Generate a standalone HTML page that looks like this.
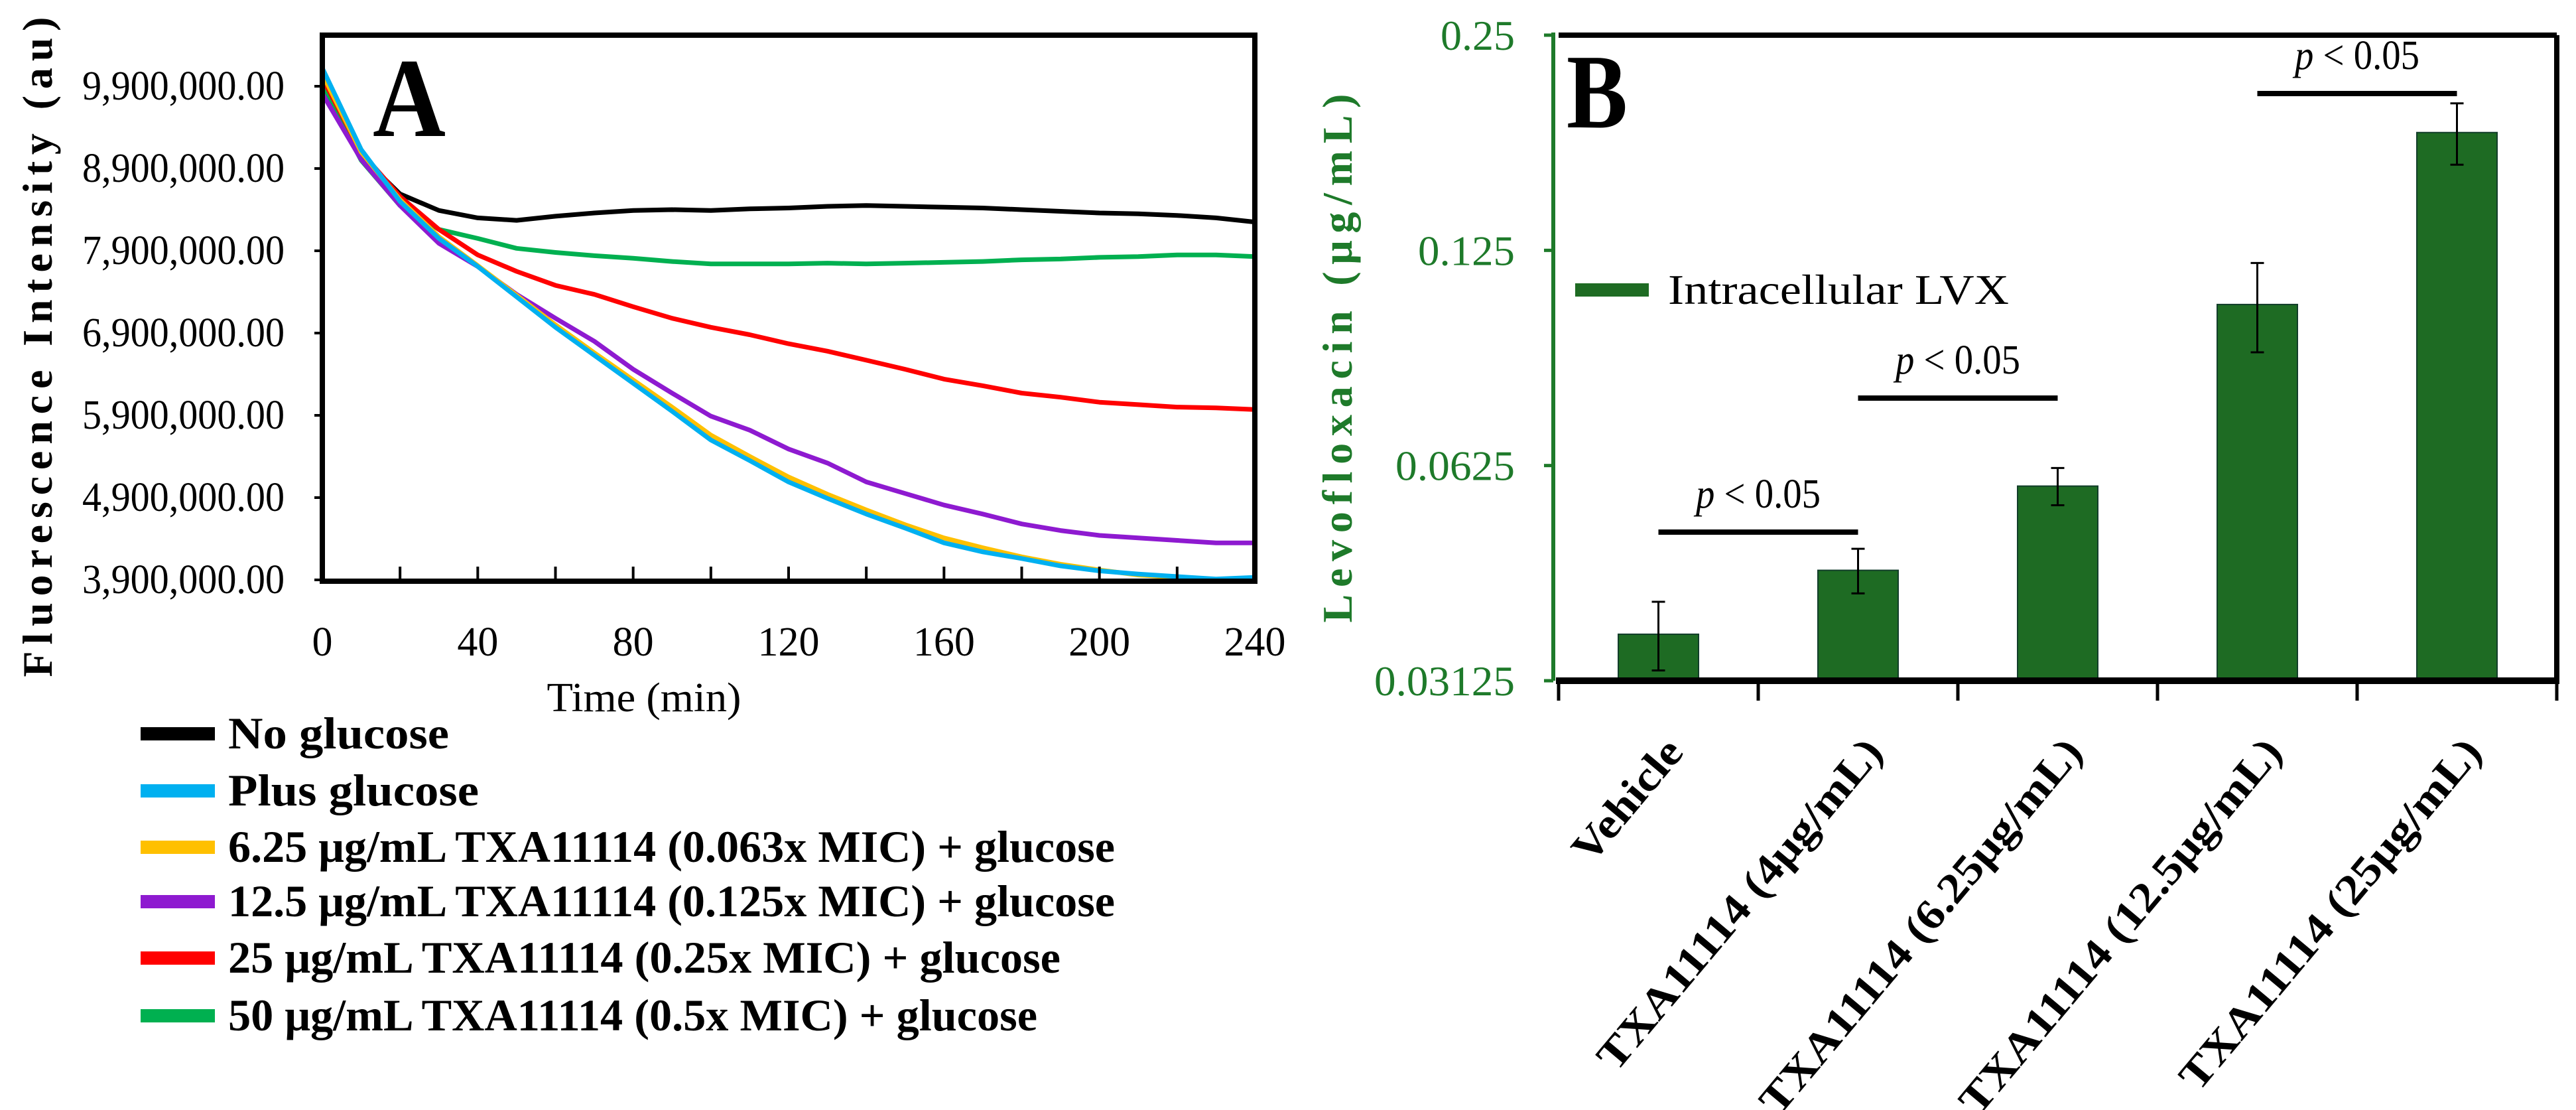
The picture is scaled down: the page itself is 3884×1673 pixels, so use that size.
<!DOCTYPE html>
<html><head><meta charset="utf-8"><style>
body{margin:0;background:#fff}
svg{display:block}
text{font-family:"Liberation Serif",serif}
</style></head><body>
<svg id="fig" width="3884" height="1673" viewBox="0 0 3884 1673" xmlns="http://www.w3.org/2000/svg">
<g id="panelA"></g>
<g id="panelB"></g>
</svg>
<script>
// ---- Panel A data ----
const timesA = [0,10,20,30,40,50,60,70,80,90,100,110,120,130,140,150,160,170,180,190,200,210,220,230,240];
const noGlucose   = [9.95,9.05,8.59,8.39,8.30,8.27,8.32,8.36,8.39,8.40,8.39,8.41,8.42,8.44,8.45,8.44,8.43,8.42,8.40,8.38,8.36,8.35,8.33,8.30,8.25];
const plusGlucose = [10.12,9.13,8.50,8.05,7.71,7.34,6.97,6.63,6.29,5.95,5.60,5.35,5.09,4.89,4.70,4.53,4.35,4.24,4.16,4.07,4.01,3.97,3.94,3.91,3.93];
const txa625      = [10.05,9.10,8.52,8.07,7.72,7.36,7.00,6.66,6.33,6.00,5.66,5.40,5.15,4.94,4.75,4.57,4.41,4.29,4.18,4.09,4.02,3.96,3.93,3.90,3.90];
const txa125      = [9.81,9.01,8.45,7.99,7.71,7.37,7.08,6.80,6.46,6.17,5.89,5.72,5.49,5.32,5.09,4.95,4.81,4.70,4.58,4.50,4.44,4.41,4.38,4.35,4.35];
const txa25       = [10.00,9.10,8.56,8.16,7.85,7.65,7.48,7.37,7.22,7.08,6.97,6.88,6.77,6.68,6.57,6.46,6.34,6.26,6.17,6.12,6.06,6.03,6.00,5.99,5.97];
const txa50       = [9.90,9.00,8.45,8.16,8.05,7.93,7.88,7.84,7.81,7.77,7.74,7.74,7.74,7.75,7.74,7.75,7.76,7.77,7.79,7.80,7.82,7.83,7.85,7.85,7.83];
const seriesNames = ["No glucose","Plus glucose","6.25 μg/mL TXA11114 (0.063x MIC) + glucose","12.5 μg/mL TXA11114 (0.125x MIC) + glucose","25 μg/mL TXA11114 (0.25x MIC) + glucose","50 μg/mL TXA11114 (0.5x MIC) + glucose"];
const yTicksA = [3.9,4.9,5.9,6.9,7.9,8.9,9.9];
const yTickLabelsA = ["3,900,000.00","4,900,000.00","5,900,000.00","6,900,000.00","7,900,000.00","8,900,000.00","9,900,000.00"];
const xTicksA = [0,40,80,120,160,200,240];

// ---- Panel B data ----
const categoriesB = ["Vehicle","TXA11114 (4μg/mL)","TXA11114 (6.25μg/mL)","TXA11114 (12.5μg/mL)","TXA11114 (25μg/mL)"];
const valuesB = [0.0363,0.0446,0.0585,0.105,0.1827];
const errorsB = [0.0040,0.0032,0.0035,0.015,0.018];
const yTicksB = [0.03125,0.0625,0.125,0.25];
const yTickLabelsB = ["0.03125","0.0625","0.125","0.25"];
const sigPairs = [[0,1],[1,2],[3,4]];

const NS="http://www.w3.org/2000/svg";
function mk(parent,tag,attrs,txt){const e=document.createElementNS(NS,tag);for(const k in attrs)e.setAttribute(k,attrs[k]);if(txt!==undefined)e.textContent=txt;parent.appendChild(e);return e;}

// ===== Panel A =====
const A=document.getElementById('panelA');
const aL=486,aR=1892,aT=53,aB=876;
const xA=t=>aL+(t-0)/(240-0)*(aR-aL);
const yA=v=>874-(v-3.9)*124;
const colors=["#000000","#00b0f0","#ffc000","#8e1ad0","#ff0000","#00b050"];
const drawOrder=[0,5,4,3,2,1];
const allSeries=[noGlucose,plusGlucose,txa625,txa125,txa25,txa50];
const clip=mk(A,'clipPath',{id:'clipA'});mk(clip,'rect',{x:aL,y:aT,width:aR-aL,height:aB-aT});
drawOrder.forEach(i=>{
  const pts=timesA.map((t,j)=>xA(t).toFixed(1)+','+yA(allSeries[i][j]).toFixed(1)).join(' ');
  const p=mk(A,'polyline',{points:pts,fill:'none',stroke:colors[i],'stroke-width':7,'stroke-linejoin':'round','clip-path':'url(#clipA)'});
  
  
});
const boxA=mk(A,'rect',{x:aL,y:aT,width:aR-aL,height:aB-aT,fill:'none',stroke:'#000','stroke-width':8});


for(let t=20;t<240;t+=20){mk(A,'line',{x1:xA(t),x2:xA(t),y1:aB,y2:aB-22,stroke:'#000','stroke-width':4});}
yTicksA.forEach((v,i)=>{
  mk(A,'line',{x1:aL-12,x2:aL,y1:yA(v),y2:yA(v),stroke:'#000','stroke-width':4});
  const t=mk(A,'text',{x:429,y:yA(v)+20,'text-anchor':'end','font-size':62,textLength:305,lengthAdjust:'spacingAndGlyphs'},yTickLabelsA[i]);
  
  
});
xTicksA.forEach(v=>{
  const t=mk(A,'text',{x:xA(v),y:988,'text-anchor':'middle','font-size':62},String(v));
  
  
});
let tt=mk(A,'text',{x:971,y:1072,'text-anchor':'middle','font-size':62,textLength:293,lengthAdjust:'spacingAndGlyphs'},'Time (min)');


tt=mk(A,'text',{x:0,y:0,transform:'translate(78,523) rotate(-90)','text-anchor':'middle','font-size':64,'font-weight':'bold',textLength:995,lengthAdjust:'spacing'},'Fluorescence Intensity (au)');


tt=mk(A,'text',{x:562,y:205,'font-size':170,'font-weight':'bold',textLength:110,lengthAdjust:'spacingAndGlyphs'},'A');


const legY=[1106,1192,1277,1359,1444,1531];
const legLen=[333,378,1337,1337,1255,1220];
seriesNames.forEach((n,i)=>{
  const g=mk(A,'g',{});
  
  
  mk(g,'rect',{x:212,y:legY[i]-10,width:112,height:20,fill:colors[i]});
  mk(g,'text',{x:344,y:legY[i]+22,'font-size':68,'font-weight':'bold',textLength:legLen[i],lengthAdjust:'spacingAndGlyphs'},n);
});

// ===== Panel B =====
const B=document.getElementById('panelB');
const bL=2350,bR=3855,bT=53,bB=1026;
const catW=(bR-bL)/categoriesB.length;
const xB=i=>bL+catW*(i+0.5);
const yB=v=>bB-Math.log2(v/0.03125)*(bB-bT)/3;
const barW=121;
valuesB.forEach((v,i)=>{
  const r=mk(B,'rect',{x:xB(i)-barW/2,y:yB(v),width:barW,height:bB-yB(v),fill:'#1e6b23',stroke:'#123d2a','stroke-width':2});
  
  
  const top=yB(v+errorsB[i]),bot=yB(v-errorsB[i]);
  const e=mk(B,'g',{stroke:'#000','stroke-width':3});
  
  
  mk(e,'line',{x1:xB(i),x2:xB(i),y1:top,y2:bot});
  mk(e,'line',{x1:xB(i)-10,x2:xB(i)+10,y1:top,y2:top});
  mk(e,'line',{x1:xB(i)-10,x2:xB(i)+10,y1:bot,y2:bot});
});
mk(B,'line',{x1:bL,x2:bR,y1:bT,y2:bT,stroke:'#000','stroke-width':8});
mk(B,'line',{x1:bR,x2:bR,y1:bT,y2:bB,stroke:'#000','stroke-width':8});
mk(B,'line',{x1:bL-4,x2:bR+4,y1:bB,y2:bB,stroke:'#000','stroke-width':10});
const ya=mk(B,'line',{x1:bL-8,x2:bL-8,y1:bT-4,y2:bB,stroke:'#1e7a2a','stroke-width':6});


for(let i=0;i<=categoriesB.length;i++){mk(B,'line',{x1:bL+catW*i,x2:bL+catW*i,y1:bB,y2:bB+30,stroke:'#000','stroke-width':5});}
const tlB=[212,180,146,112];
yTicksB.forEach((v,i)=>{
  mk(B,'line',{x1:bL-22,x2:bL-8,y1:yB(v),y2:yB(v),stroke:'#1e7a2a','stroke-width':5});
  const t=mk(B,'text',{x:2284,y:yB(v)+22,'text-anchor':'end','font-size':64,fill:'#1e7a2a',textLength:tlB[i],lengthAdjust:'spacingAndGlyphs'},yTickLabelsB[i]);
  
  
});
const catLen=[221,630,717,717,669];
categoriesB.forEach((c,i)=>{
  const x=xB(i)+40,y=1135;
  const t=mk(B,'text',{x:0,y:0,transform:`translate(${x},${y}) rotate(-50)`,'text-anchor':'end','font-size':64,'font-weight':'bold',textLength:catLen[i],lengthAdjust:'spacingAndGlyphs'},c);
  
  
});
tt=mk(B,'text',{x:0,y:0,transform:'translate(2038,540) rotate(-90)','text-anchor':'middle','font-size':64,'font-weight':'bold',fill:'#1e7a2a',textLength:797,lengthAdjust:'spacing'},'Levofloxacin (μg/mL)');


tt=mk(B,'text',{x:2362,y:192,'font-size':160,'font-weight':'bold',textLength:92,lengthAdjust:'spacingAndGlyphs'},'B');


const sigY=[802,600,141];
sigPairs.forEach((p,k)=>{
  const g=mk(B,'g',{});
  
  
  const x1=xB(p[0]),x2=xB(p[1]);
  mk(g,'line',{x1:x1,x2:x2,y1:sigY[k],y2:sigY[k],stroke:'#000','stroke-width':8});
  const t=mk(g,'text',{x:(x1+x2)/2,y:sigY[k]-37,'text-anchor':'middle','font-size':62,textLength:188,lengthAdjust:'spacingAndGlyphs'});
  mk(t,'tspan',{'font-style':'italic'},'p');
  mk(t,'tspan',{},' < 0.05');
});
const lg=mk(B,'g',{});


mk(lg,'rect',{x:2375,y:427,width:111,height:20,fill:'#1e6b23'});
mk(lg,'text',{x:2515,y:458,'font-size':64,textLength:514,lengthAdjust:'spacingAndGlyphs'},'Intracellular LVX');
</script>
</body></html>
